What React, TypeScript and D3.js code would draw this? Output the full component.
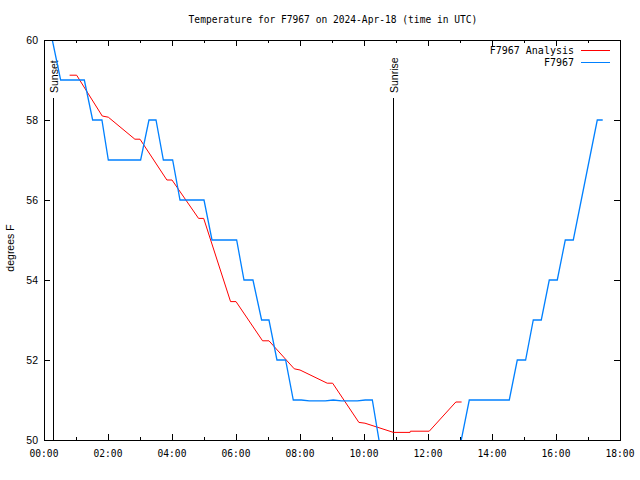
import React from "react";
import * as d3 from "d3";

const title = "Temperature for F7967 on 2024-Apr-18 (time in UTC)";
const yLabel = "degrees F";
const xTickHours = [0, 2, 4, 6, 8, 10, 12, 14, 16, 18];
const xTickLabels = ["00:00", "02:00", "04:00", "06:00", "08:00", "10:00", "12:00", "14:00", "16:00", "18:00"];
const yTicks = [50, 52, 54, 56, 58, 60];
const seriesNames = ["F7967 Analysis", "F7967"];
const seriesColors = ["#ff0000", "#0080ff"];

// Analysis (red): hours, values
const analysisHours = [0.8, 1.02, 1.82, 2.01, 2.84, 3.0, 3.84, 4.0, 4.83, 4.99, 5.83, 6.0, 6.83, 7.03, 7.82, 8.0, 8.85, 9.02, 9.84, 10.03, 10.92, 11.44, 11.45, 12.04, 12.87, 13.05];
const analysisValues = [59.12, 59.12, 58.1, 58.07, 57.52, 57.52, 56.5, 56.5, 55.54, 55.54, 53.46, 53.46, 52.48, 52.48, 51.78, 51.75, 51.42, 51.42, 50.44, 50.42, 50.19, 50.19, 50.22, 50.22, 50.95, 50.95];

// Observations (blue)
const obsHours = [0.26, 0.52, 1.26, 1.52, 1.81, 2.01, 3.02, 3.28, 3.5, 3.73, 4.02, 4.25, 5.0, 5.25, 6.02, 6.25, 6.53, 6.8, 7.03, 7.28, 7.55, 7.79, 8.04, 8.29, 8.54, 8.79, 9.04, 9.29, 9.54, 9.79, 10.04, 10.26, 10.51, 12.79, 13.04, 13.29, 14.54, 14.79, 15.05, 15.29, 15.54, 15.79, 16.04, 16.29, 16.54, 16.79, 17.04, 17.29, 17.46];
const obsValues = [60, 59, 59, 58, 58, 57, 57, 58, 58, 57, 57, 56, 56, 55, 55, 54, 54, 53, 53, 52, 52, 51, 51, 50.98, 50.98, 50.98, 51, 50.98, 50.98, 50.98, 51, 51, 49.8, 49.8, 50, 51, 51, 52, 52, 53, 53, 54, 54, 55, 55, 56, 57, 58, 58];

const sunsetHour = 0.28;
const sunriseHour = 10.9;

export default function App() {
  const W = 640, H = 480;
  const L = 44, R = 620, T = 40, B = 440;
  const x = d3.scaleLinear().domain([0, 18]).range([L, R]);
  const y = d3.scaleLinear().domain([50, 60]).range([B, T]);
  const line = d3.line<[number, number]>().x(d => x(d[0])).y(d => y(d[1]));
  const red = line(analysisHours.map((h, i) => [h, analysisValues[i]]));
  const blue = line(obsHours.map((h, i) => [h, obsValues[i]]));
  const mono = "'DejaVu Sans Mono', monospace";
  const sans = "'Liberation Sans', Arial, sans-serif";
  const minorHours = d3.range(1, 18, 2);
  return (
    <svg width={W} height={H} style={{ position: "absolute", left: 0, top: 0, background: "#fff" }}>
      <defs>
        <clipPath id="plot"><rect x={L} y={T} width={R - L} height={B - T} /></clipPath>
      </defs>
      <rect x={0} y={0} width={W} height={H} fill="#fff" />
      <text x={333} y={23} textAnchor="middle" fontFamily={mono} fontSize={9.6}>{title}</text>
      {yTicks.map(v => (
        <g key={"y" + v} shapeRendering="crispEdges">
          <line x1={L} x2={L + 6} y1={Math.round(y(v)) + 0.5} y2={Math.round(y(v)) + 0.5} stroke="#000" />
          <line x1={R - 6} x2={R} y1={Math.round(y(v)) + 0.5} y2={Math.round(y(v)) + 0.5} stroke="#000" />
          <text x={38} y={y(v) + 3.5} textAnchor="end" fontFamily={sans} fontSize={10.5}>{v}</text>
        </g>
      ))}
      {xTickHours.map((h, i) => (
        <g key={"x" + h} shapeRendering="crispEdges">
          <line x1={Math.round(x(h)) + 0.5} x2={Math.round(x(h)) + 0.5} y1={B} y2={B - 6} stroke="#000" />
          <line x1={Math.round(x(h)) + 0.5} x2={Math.round(x(h)) + 0.5} y1={T} y2={T + 6} stroke="#000" />
          <text x={x(h)} y={457} textAnchor="middle" fontFamily={mono} fontSize={9.6}>{xTickLabels[i]}</text>
        </g>
      ))}
      {minorHours.map(h => (
        <g key={"m" + h} shapeRendering="crispEdges">
          <line x1={Math.round(x(h)) + 0.5} x2={Math.round(x(h)) + 0.5} y1={B} y2={B - 3} stroke="#000" />
          <line x1={Math.round(x(h)) + 0.5} x2={Math.round(x(h)) + 0.5} y1={T} y2={T + 3} stroke="#000" />
        </g>
      ))}
      <text transform={`translate(14,248) rotate(-90)`} textAnchor="middle" fontFamily={sans} fontSize={10.5}>{yLabel}</text>
      <line x1={Math.round(x(sunsetHour)) + 0.5} x2={Math.round(x(sunsetHour)) + 0.5} y1={98} y2={B} stroke="#000" shapeRendering="crispEdges" />
      <text transform={`translate(${Math.round(x(sunsetHour)) + 5},93) rotate(-90)`} fontFamily={sans} fontSize={10.5}>Sunset</text>
      <line x1={Math.round(x(sunriseHour)) + 0.5} x2={Math.round(x(sunriseHour)) + 0.5} y1={98} y2={B} stroke="#000" shapeRendering="crispEdges" />
      <text transform={`translate(${Math.round(x(sunriseHour)) + 5},93) rotate(-90)`} fontFamily={sans} fontSize={10.5}>Sunrise</text>
      <g clipPath="url(#plot)">
        <path d={red || ""} fill="none" stroke={seriesColors[0]} strokeWidth={1} />
        <path d={blue || ""} fill="none" stroke={seriesColors[1]} strokeWidth={1.3} />
      </g>
      {seriesNames.map((n, i) => (
        <g key={n}>
          <text x={574} y={54 + i * 12} textAnchor="end" fontFamily={mono} fontSize={10}>{n}</text>
          <line x1={581} x2={610} y1={50.5 + i * 12} y2={50.5 + i * 12} stroke={seriesColors[i]} shapeRendering="crispEdges" />
        </g>
      ))}
      <rect x={L + 0.5} y={T + 0.5} width={R - L} height={B - T} fill="none" stroke="#000" shapeRendering="crispEdges" />
    </svg>
  );
}
